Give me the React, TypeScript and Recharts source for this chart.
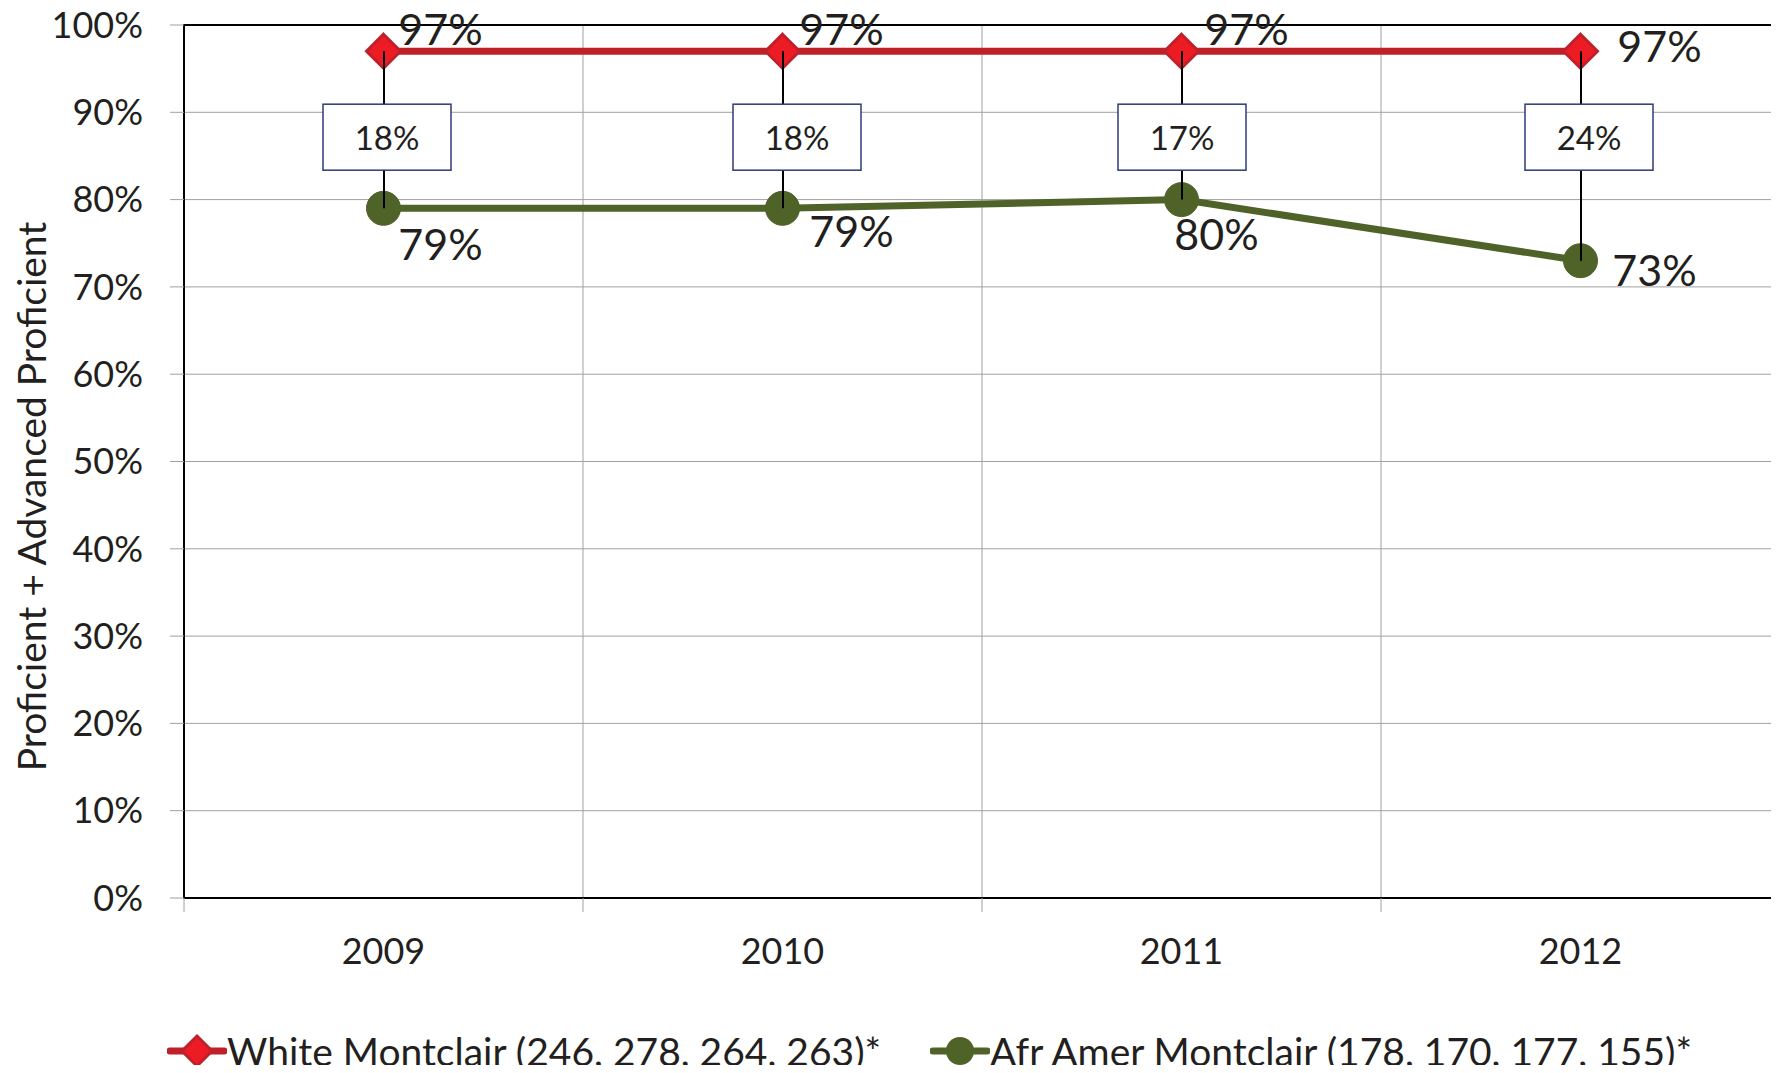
import {
  Bar,
  CartesianGrid,
  ComposedChart,
  LabelList,
  Legend,
  Line,
  ReferenceArea,
  XAxis,
  YAxis,
} from "recharts";

const YEARS = ["2009", "2010", "2011", "2012"];
const WHITE = [97, 97, 97, 97];
const AFR_AMER = [79, 79, 80, 73];
const Y_TICKS = [0, 10, 20, 30, 40, 50, 60, 70, 80, 90, 100];

const WHITE_NAME = "White Montclair (246, 278, 264, 263)*";
const AFR_NAME = "Afr Amer Montclair (178, 170, 177, 155)*";
const Y_TITLE = "Proficient + Advanced Proficient";

// label placement, px from the point
const WHITE_LABEL_OFFSET = [[57, -23], [59, -23], [65, -23], [79, -6]];
const AFR_LABEL_OFFSET = [[57, 35], [69, 22], [35, 34], [74, 9]];
const BOX_SHIFT = [3, 14, 0, 8];

const FONT = "Lato, 'Open Sans', sans-serif";
const TEXT = "#231F20";
const RED = "#C0202A";
const RED_FILL = "#ED1C24";
const GREEN = "#4F6228";
const GRID = "#A0A0A0";
const BOX_BORDER = "#2E3A78";
const TICK_MARGIN = 40;

const data = YEARS.map((year, i) => ({
  year,
  white: WHITE[i],
  afr: AFR_AMER[i],
  gap: [AFR_AMER[i], WHITE[i]],
}));

function Diamond({ cx, cy, s = 17 }: { cx: number; cy: number; s?: number }) {
  return (
    <polygon
      points={`${cx},${cy - s} ${cx + s},${cy} ${cx},${cy + s} ${cx - s},${cy}`}
      fill={RED_FILL}
      stroke={RED}
      strokeWidth={3}
    />
  );
}

function pointLabel(offsets: number[][]) {
  return (props: any) => {
    const x = props.x ?? props.viewBox?.x;
    const y = props.y ?? props.viewBox?.y;
    const [dx, dy] = offsets[props.index] ?? [0, 0];
    return (
      <text
        x={x + dx}
        y={y + dy}
        textAnchor="middle"
        dominantBaseline="central"
        fontFamily={FONT}
        fontSize={43}
        fill={TEXT}
      >
        {`${props.value}%`}
      </text>
    );
  };
}

function GapBox(props: any) {
  const vb = props.viewBox ?? {};
  const x = props.x ?? vb.x;
  const y = props.y ?? vb.y;
  const w = props.width ?? vb.width ?? 0;
  const h = props.height ?? vb.height ?? 0;
  const i = props.index;
  const cx = x + w / 2;
  const bx = cx + (BOX_SHIFT[i] ?? 0);
  const cyBox = y + 86;
  const diff = WHITE[i] - AFR_AMER[i];
  return (
    <g>
      <line x1={cx} x2={cx} y1={y} y2={y + h} stroke="#000" strokeWidth={2} />
      <rect x={bx - 64} y={cyBox - 33} width={128} height={66} fill="#fff" stroke={BOX_BORDER} strokeWidth={1.5} />
      <text x={bx} y={cyBox} textAnchor="middle" dominantBaseline="central" fontFamily={FONT} fontSize={33} fill={TEXT}>
        {`${diff}%`}
      </text>
    </g>
  );
}

// year label plus the little tick marks that sit on the band edges
function YearTick(props: any) {
  const { x, y, payload, index, width, visibleTicksCount } = props;
  const half = payload?.offset || width / (2 * (visibleTicksCount || YEARS.length));
  const top = y - TICK_MARGIN;
  return (
    <g>
      <line x1={x - half} x2={x - half} y1={top} y2={top + 14} stroke={GRID} />
      {index === YEARS.length - 1 ? (
        <line x1={x + half} x2={x + half} y1={top} y2={top + 14} stroke={GRID} />
      ) : null}
      <text x={x} y={y} dy="0.71em" textAnchor="middle" fontFamily={FONT} fontSize={36} fill={TEXT}>
        {payload.value}
      </text>
    </g>
  );
}

const bandEdges = ({ offset, width }: any) => {
  const n = YEARS.length;
  const left = offset?.left ?? 184;
  const w = offset?.width ?? width - left - 20;
  return Array.from({ length: n + 1 }, (_, i) => left + (w * i) / n);
};

function LegendIcon({ kind, color }: { kind: "diamond" | "circle"; color: string }) {
  return (
    <svg width={60} height={40} style={{ display: "block" }}>
      <line x1={3} x2={57} y1={20} y2={20} stroke={color} strokeWidth={7} strokeLinecap="round" />
      {kind === "diamond" ? (
        <polygon points="30,5 45,20 30,35 15,20" fill={RED_FILL} stroke={RED} strokeWidth={3} />
      ) : (
        <circle cx={30} cy={20} r={14} fill={GREEN} />
      )}
    </svg>
  );
}

function LegendContent() {
  const item = (left: number, kind: "diamond" | "circle", color: string, label: string) => (
    <div style={{ position: "absolute", left, top: 51, display: "flex", alignItems: "center", height: 40 }}>
      <LegendIcon kind={kind} color={color} />
      <span style={{ fontFamily: FONT, fontSize: 39, color: TEXT, lineHeight: "40px", whiteSpace: "nowrap" }}>
        {label}
      </span>
    </div>
  );
  return (
    <div style={{ position: "relative", height: 93, width: 1800 }}>
      {item(167, "diamond", RED, WHITE_NAME)}
      {item(930, "circle", GREEN, AFR_NAME)}
    </div>
  );
}

export default function App() {
  return (
    <div style={{ width: 1779, height: 1073, overflow: "hidden", margin: -8, position: "relative", background: "#fff" }}>
      <ComposedChart width={1800} height={1073} data={data} margin={{ top: 25, right: 20, bottom: 0, left: 0 }}>
        <CartesianGrid stroke={GRID} strokeWidth={1} verticalCoordinatesGenerator={bandEdges} />
        <XAxis
          dataKey="year"
          tickLine={false}
          axisLine={false}
          tickSize={0}
          tickMargin={TICK_MARGIN}
          height={82}
          tick={YearTick}
        />
        <YAxis
          domain={[0, 100]}
          ticks={Y_TICKS}
          tickFormatter={(v) => `${v}%`}
          width={184}
          tickSize={14}
          tickMargin={27}
          tickLine={{ stroke: GRID }}
          axisLine={false}
          tick={{ fontFamily: FONT, fontSize: 36, fill: TEXT }}
          label={{
            content: (p: any) => {
              const vb = p.viewBox ?? { y: 25, height: 873 };
              const cy = vb.y + vb.height / 2 + 35;
              return (
                <text
                  x={31}
                  y={cy}
                  transform={`rotate(-90, 31, ${cy})`}
                  textAnchor="middle"
                  dominantBaseline="central"
                  fontFamily={FONT}
                  fontSize={39}
                  fill={TEXT}
                >
                  {Y_TITLE}
                </text>
              );
            },
          }}
        />
        <ReferenceArea
          y1={0}
          y2={100}
          fill="none"
          fillOpacity={0}
          stroke="#000"
          strokeWidth={2}
          ifOverflow="visible"
        />
        <Line
          dataKey="white"
          name={WHITE_NAME}
          stroke={RED}
          strokeWidth={7}
          dot={(p: any) => <Diamond key={`d${p.index}`} cx={p.cx} cy={p.cy} />}
          activeDot={false}
          isAnimationActive={false}
        >
          <LabelList dataKey="white" content={pointLabel(WHITE_LABEL_OFFSET)} />
        </Line>
        <Line
          dataKey="afr"
          name={AFR_NAME}
          stroke={GREEN}
          strokeWidth={7}
          dot={{ r: 17, fill: GREEN, stroke: GREEN, strokeWidth: 1 }}
          activeDot={false}
          isAnimationActive={false}
        >
          <LabelList dataKey="afr" content={pointLabel(AFR_LABEL_OFFSET)} />
        </Line>
        <Bar dataKey="gap" barSize={2} fill="#000" legendType="none" isAnimationActive={false}>
          <LabelList dataKey="gap" content={GapBox} />
        </Bar>
        <Legend
          verticalAlign="bottom"
          content={LegendContent}
          wrapperStyle={{ left: 0, width: 1800, height: 93 }}
        />
      </ComposedChart>
    </div>
  );
}
